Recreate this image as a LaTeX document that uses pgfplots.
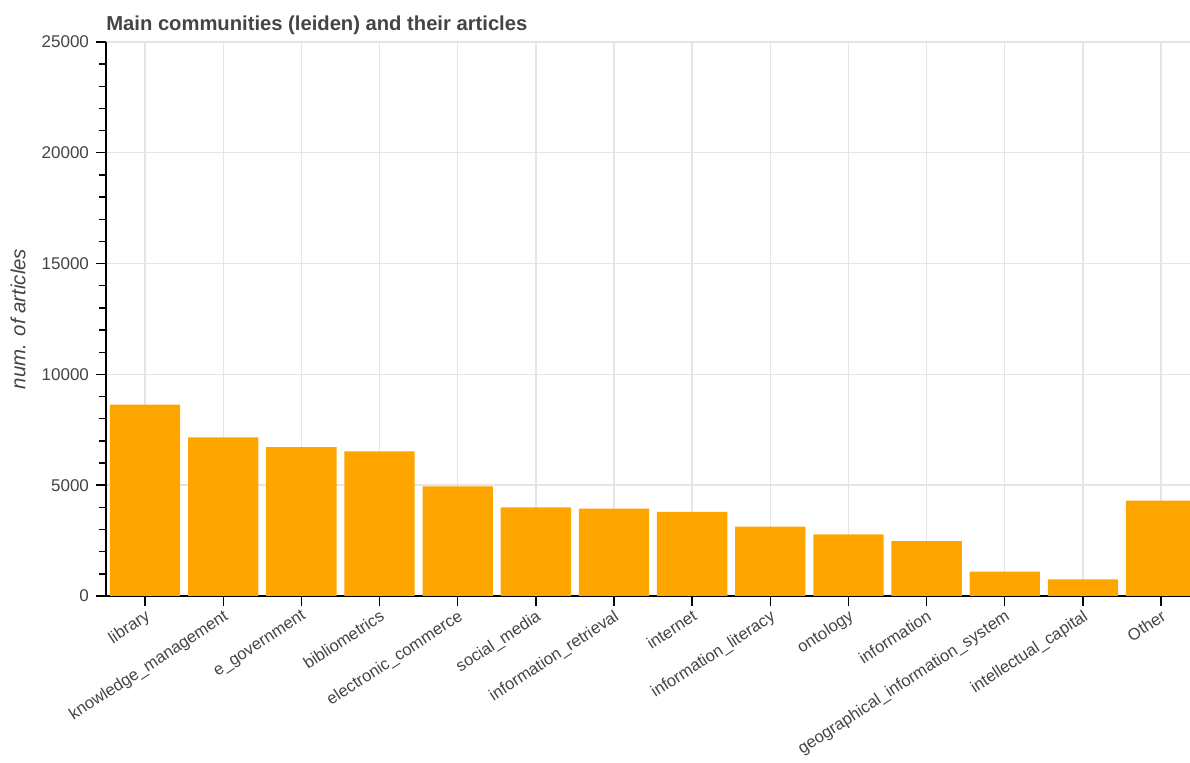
\documentclass[border=0pt]{standalone}
\usepackage{fontspec}
\setmainfont{Liberation Sans}
\usepackage{pgfplots}
\pgfplotsset{compat=1.18}
\definecolor{barorange}{HTML}{FFA500}
\definecolor{txt}{HTML}{444444}
\definecolor{gridc}{HTML}{E5E5E5}
\begin{document}
\begin{tikzpicture}
\begin{axis}[
  scale only axis, width=542pt, height=277pt,
  xmin=-0.5, xmax=13.37, ymin=0, ymax=25000,
  axis lines=left,
  axis line style={-, line width=0.7pt, black},
  ytick={0,5000,10000,15000,20000,25000},
  minor y tick num=4,
  xtick={0,1,2,3,4,5,6,7,8,9,10,11,12,13},
  xticklabels={library, knowledge\_management, e\_government, bibliometrics, electronic\_commerce, social\_media, information\_retrieval, internet, information\_literacy, ontology, information, geographical\_information\_system, intellectual\_capital, Other},
  tick align=outside,
  major tick length=5pt, minor tick length=3.3pt,
  tick style={black, line width=0.7pt},
  grid=major,
  major grid style={gridc, line width=0.7pt},
  scaled y ticks=false,
  /pgf/number format/.cd, fixed, 1000 sep={}, assume math mode=true,
  /pgfplots/.cd,
  yticklabel style={font=\fontsize{8.5}{10}\selectfont, text=txt},
  xticklabel style={font=\fontsize{8.3}{10}\selectfont, text=txt, rotate=33, anchor=north east, inner sep=1pt},
  ylabel={num. of articles},
  ylabel style={font=\itshape\fontsize{10.2}{12}\selectfont, text=txt, at={(axis description cs:-0.0812,0.5)}, anchor=center},
  title={Main communities (leiden) and their articles},
  title style={font=\bfseries\fontsize{10.1}{12}\selectfont, text=txt, at={(axis description cs:0,1)}, anchor=base west, inner sep=0pt, yshift=-0.25pt},
]
\addplot[ybar, bar width=0.9, fill=barorange, draw=none] coordinates {
(0,8630) (1,7160) (2,6720) (3,6530) (4,4950) (5,4000) (6,3940)
(7,3800) (8,3130) (9,2780) (10,2480) (11,1100) (12,750) (13,4300)
};
\end{axis}
\pgfresetboundingbox
\path[use as bounding box] (-53pt,-83.5pt) rectangle (542pt,298pt);
\end{tikzpicture}
\end{document}
